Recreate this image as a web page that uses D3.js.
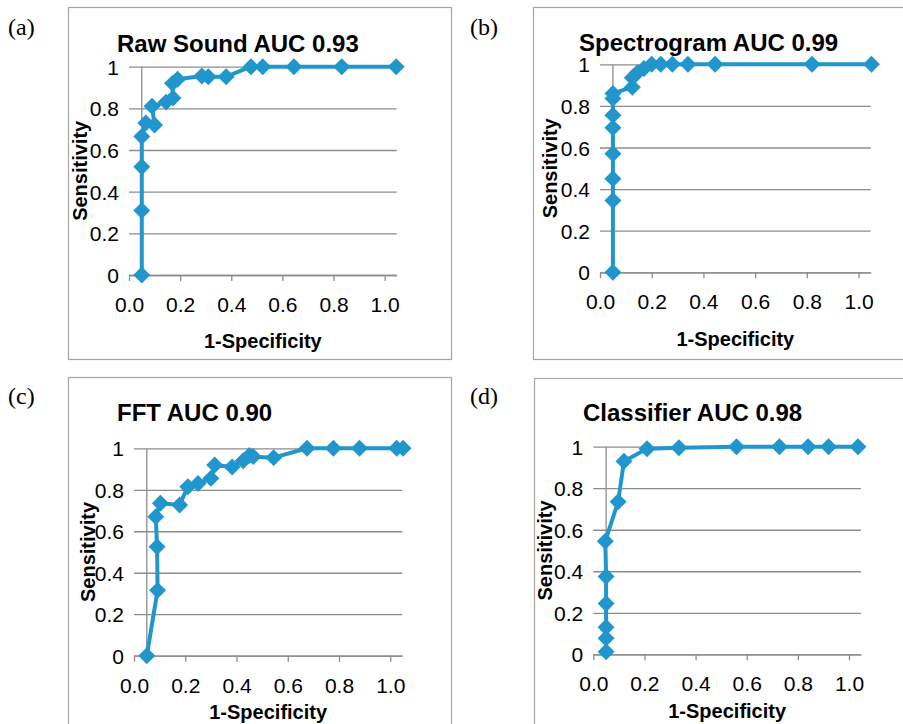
<!DOCTYPE html>
<html lang="en">
  <head>
    <meta charset="UTF-8" />
    <title>ROC curves</title>
    <script src="https://cdn.jsdelivr.net/npm/d3@7"></script>
    <style>
      body { margin: 0; background: #fff; }
      text { font-family: "Liberation Sans", Arial, sans-serif; fill: #000; }
      .tick text { font-size: 21px; }
      .tick line { stroke: #8c8c8c; stroke-width: 1.3px; }
      .domain { stroke: #8c8c8c; stroke-width: 1.3px; }
      .title { font-size: 24px; font-weight: bold; }
      .axis-title { font-size: 20px; font-weight: bold; }
      .panel-label { font-family: "Liberation Serif", "Times New Roman", serif; font-size: 24px; }
      .curve { fill: none; stroke: #2196cc; stroke-width: 4px; stroke-linejoin: round; }
      .marker { fill: #2196cc; }
    </style>
  </head>
  <body>
    <script>
      // ROC points [1-specificity, sensitivity]
      var rawSound = [
        [0.05, 0], [0.05, 0.31], [0.05, 0.52], [0.05, 0.665], [0.066, 0.73],
        [0.10, 0.72], [0.09, 0.81], [0.145, 0.83], [0.172, 0.85], [0.17, 0.92],
        [0.19, 0.94], [0.285, 0.955], [0.31, 0.952], [0.38, 0.952], [0.477, 1],
        [0.523, 1], [0.645, 1], [0.832, 1], [1.045, 1]
      ];
      var spectrogram = [
        [0.05, 0], [0.05, 0.345], [0.05, 0.45], [0.05, 0.57], [0.05, 0.695],
        [0.05, 0.755], [0.05, 0.835], [0.05, 0.86], [0.125, 0.89], [0.125, 0.935],
        [0.145, 0.96], [0.17, 0.98], [0.2, 1], [0.235, 1], [0.28, 1],
        [0.34, 1], [0.445, 1], [0.82, 1], [1.05, 1]
      ];
      var fft = [
        [0.05, 0], [0.092, 0.315], [0.09, 0.525], [0.085, 0.67], [0.103, 0.735],
        [0.178, 0.727], [0.21, 0.815], [0.25, 0.83], [0.3, 0.855], [0.315, 0.92],
        [0.383, 0.91], [0.426, 0.94], [0.45, 0.965], [0.465, 0.96], [0.545, 0.955],
        [0.675, 1], [0.778, 1], [0.88, 1], [1.025, 1], [1.05, 1]
      ];
      var classifier = [
        [0.05, 0.012], [0.05, 0.077], [0.05, 0.13], [0.05, 0.245], [0.05, 0.375],
        [0.047, 0.545], [0.097, 0.735], [0.12, 0.93], [0.21, 0.99], [0.335, 0.995],
        [0.56, 1], [0.728, 1], [0.84, 1], [0.92, 1], [1.035, 1]
      ];

      var titles = ["Raw Sound AUC 0.93", "Spectrogram AUC 0.99", "FFT AUC 0.90", "Classifier AUC 0.98"];
      var labels = ["(a)", "(b)", "(c)", "(d)"];
      var xTicks = [0, 0.2, 0.4, 0.6, 0.8, 1.0];
      var yTicks = [0, 0.2, 0.4, 0.6, 0.8, 1];
      var series = [rawSound, spectrogram, fft, classifier];

      var w = 903, h = 724;
      var xMax = 1.047, yAxisAt = 0.05;

      // where each panel sits on the page
      var layout = [
        { x0: 129, x1: 396.7, y0: 275, y1: 66.7, box: [68, 7, 451, 359], tx: 117, ty: 51.7, xty: 348, ytx: 87, lx: 8, ly: 35 },
        { x0: 600, x1: 870.7, y0: 272.3, y1: 64.3, box: [533, 7, 916, 359], tx: 579, ty: 51, xty: 345.7, ytx: 557, lx: 470, ly: 35 },
        { x0: 134, x1: 402.3, y0: 655.7, y1: 448.3, box: [68, 377, 451, 740], tx: 117, ty: 420.7, xty: 719, ytx: 95, lx: 8, ly: 404 },
        { x0: 593.3, x1: 861, y0: 654.3, y1: 446.7, box: [534, 378, 916, 740], tx: 583, ty: 420.7, xty: 718, ytx: 552, lx: 470, ly: 404 }
      ];

      var svg = d3.select("body").append("svg")
        .attr("width", w)
        .attr("height", h);

      var diamond = d3.symbol().type(d3.symbolSquare).size(144);

      layout.forEach(function(p, i) {
        var g = svg.append("g");

        // outer frame
        g.append("rect")
          .attr("x", p.box[0] + 0.5)
          .attr("y", p.box[1] + 0.5)
          .attr("width", p.box[2] - p.box[0])
          .attr("height", p.box[3] - p.box[1])
          .attr("fill", "none")
          .attr("stroke", "#a6a6a6")
          .attr("stroke-width", 1.2);

        g.append("text")
          .attr("class", "panel-label")
          .attr("x", p.lx)
          .attr("y", p.ly)
          .text(labels[i]);

        var xScale = d3.scaleLinear()
          .domain([0, 1])
          .range([p.x0, p.x1]);
        xScale.domain([0, xMax]).range([p.x0, xScale(xMax)]);

        var yScale = d3.scaleLinear()
          .domain([0, 1])
          .range([p.y0, p.y1]);

        var plotW = xScale(xMax) - p.x0;

        // gridlines + y labels
        var yAxis = d3.axisLeft(yScale)
          .tickValues(yTicks)
          .tickSize(-plotW)
          .tickPadding(10)
          .tickFormat(function(d) { return d === 0 || d === 1 ? String(d) : d3.format(".1f")(d); });

        g.append("g")
          .attr("class", "yaxis")
          .attr("transform", "translate(" + p.x0 + ",0)")
          .call(yAxis)
          .call(function(s) { s.select(".domain").remove(); })
          .selectAll(".tick text").attr("dy", "0.36em");

        var xAxis = d3.axisBottom(xScale)
          .tickValues(xTicks)
          .tickSize(6)
          .tickSizeOuter(0)
          .tickPadding(0)
          .tickFormat(d3.format(".1f"));

        var xa = g.append("g")
          .attr("class", "xaxis")
          .attr("transform", "translate(0," + p.y0 + ")")
          .call(xAxis);
        xa.selectAll(".tick text").attr("y", 37).attr("dy", 0);

        // vertical axis line sits at x = 0.05
        g.append("line")
          .attr("x1", xScale(yAxisAt)).attr("x2", xScale(yAxisAt))
          .attr("y1", yScale(0)).attr("y2", yScale(1))
          .attr("stroke", "#8c8c8c")
          .attr("stroke-width", 1.3);

        var line = d3.line()
          .x(function(d) { return xScale(d[0]); })
          .y(function(d) { return yScale(d[1]); });

        g.append("path")
          .datum(series[i])
          .attr("class", "curve")
          .attr("d", line);

        g.selectAll(".marker")
          .data(series[i])
          .enter()
          .append("path")
          .attr("class", "marker")
          .attr("d", diamond)
          .attr("transform", function(d) {
            return "translate(" + xScale(d[0]) + "," + yScale(d[1]) + ") rotate(45)";
          });

        g.append("text")
          .attr("class", "title")
          .attr("x", p.tx)
          .attr("y", p.ty)
          .text(titles[i]);

        g.append("text")
          .attr("class", "axis-title")
          .attr("text-anchor", "middle")
          .attr("x", (p.x0 + xScale(xMax)) / 2)
          .attr("y", p.xty)
          .text("1-Specificity");

        g.append("text")
          .attr("class", "axis-title")
          .attr("text-anchor", "middle")
          .attr("transform", "translate(" + p.ytx + "," + (p.y0 + p.y1) / 2 + ") rotate(-90)")
          .text("Sensitivity");
      });
    </script>
  </body>
</html>
